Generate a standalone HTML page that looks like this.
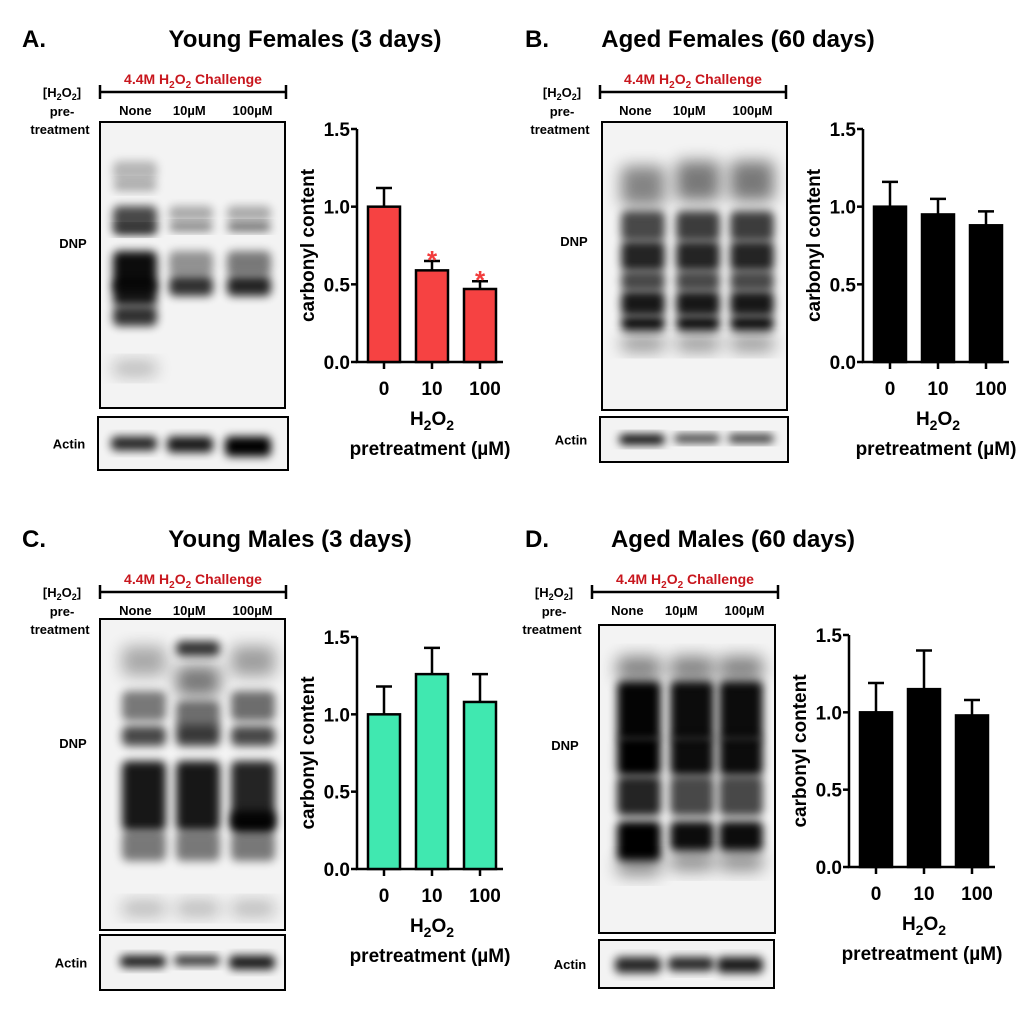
<!DOCTYPE html>
<html><head><meta charset="utf-8"><style>
body{margin:0;background:#fff}
svg{display:block;font-family:"Liberation Sans",Arial,sans-serif;font-weight:bold}
</style></head><body>
<svg id="s" width="1020" height="1017" viewBox="0 0 1020 1017" xmlns="http://www.w3.org/2000/svg">
<defs>
<filter id="b3" x="-50%" y="-50%" width="200%" height="200%"><feGaussianBlur stdDeviation="4.5"/></filter>
<filter id="b6" x="-50%" y="-50%" width="200%" height="200%"><feGaussianBlur stdDeviation="8"/></filter>
</defs>
</svg>
<script>
const s=document.getElementById('s');let h='';
function t(x,y,txt,sz,anc,fill,extra){h+=`<text x="${x}" y="${y}" font-size="${sz}" text-anchor="${anc||'start'}" fill="${fill||'#000'}" ${extra||''}>${txt}</text>`;}
function panel(o){
 const dx=o.dx,dy=o.dy;
 t(22+dx,47+dy,o.L,24);
 t(o.tx+dx,47+dy,o.title,24,'middle');
 t(o.bx0+(o.bx1-o.bx0)/2+dx,84+dy,'4.4M H<tspan font-size="10" dy="4">2</tspan><tspan dy="-4">O</tspan><tspan font-size="10" dy="4">2</tspan><tspan dy="-4"> Challenge</tspan>',14,'middle','#c8161d');
 h+=`<path d="M${o.bx0+dx} ${92+dy}H${o.bx1+dx}M${o.bx0+dx} ${85+dy}V${99+dy}M${o.bx1+dx} ${85+dy}V${99+dy}" stroke="#000" stroke-width="2.5" fill="none"/>`;
 const lx=o.bx0-38+dx;
 t(lx,97+dy,'[H<tspan font-size="9" dy="3">2</tspan><tspan dy="-3">O</tspan><tspan font-size="9" dy="3">2</tspan><tspan dy="-3">]</tspan>',13,'middle');
 t(lx,116+dy,'pre-',13,'middle');t(lx-2,134+dy,'treatment',13,'middle');
 const w=o.bx1-o.bx0;
 t(o.bx0+w*0.19+dx,115+dy,'None',13,'middle');t(o.bx0+w*0.48+dx,115+dy,'10µM',13,'middle');t(o.bx0+w*0.82+dx,115+dy,'100µM',13,'middle');
 const [X0,Y0,X1,Y1]=o.blot;
 h+=`<rect x="${X0+dx}" y="${Y0+dy}" width="${X1-X0}" height="${Y1-Y0}" fill="#f3f3f3" stroke="#000" stroke-width="2"/>`;
 h+=`<svg x="${X0+dx+1}" y="${Y0+dy+1}" width="${X1-X0-2}" height="${Y1-Y0-2}" overflow="hidden">`;
 o.lanes.forEach((c,i)=>{o.bands[i].forEach(b=>{h+=`<rect x="${c-X0-22}" y="${b[0]-Y0}" width="44" height="${b[1]}" rx="6" fill="#000" opacity="${b[2]}" filter="url(#${b[3]||'b3'})"/>`;});});
 h+='</svg>';
 t(o.dnpx+dx,o.dnpy+dy,'DNP',13,'middle');
 const [A0,B0,A1,B1]=o.act;
 h+=`<rect x="${A0+dx}" y="${B0+dy}" width="${A1-A0}" height="${B1-B0}" fill="#f3f3f3" stroke="#000" stroke-width="2"/>`;
 o.lanes.forEach((c,i)=>{h+=`<rect x="${c-23+dx}" y="${(B0+B1)/2-7+dy+(o.actOff||0)}" width="46" height="${o.actH[i]}" rx="5" fill="#000" opacity="${o.actO[i]}" filter="url(#b3)"/>`;});
 t(A0-29+dx,(B0+B1)/2+5+dy,'Actin',13,'middle');
 const ax=o.ax+dx,y0=o.y0+dy,y15=o.y15+dy,sc=(y0-y15)/1.5;
 h+=`<path d="M${ax} ${y15}V${y0}H${ax+146}" stroke="#000" stroke-width="2.5" fill="none"/>`;
 [0,0.5,1,1.5].forEach(v=>{const y=y0-v*sc;h+=`<path d="M${ax-6} ${y}H${ax}" stroke="#000" stroke-width="2.5"/>`;t(ax-7,y+7,v.toFixed(1),19,'end');});
 ['0','10','100'].forEach((l,i)=>{const cx=ax+27+48*i;const v=o.vals[i],e=o.err[i];const yt=y0-v*sc;
  h+=`<path d="M${cx} ${yt}V${yt-e*sc}M${cx-8} ${yt-e*sc}H${cx+8}" stroke="#000" stroke-width="2.5"/>`;
  h+=`<rect x="${cx-16}" y="${yt}" width="32" height="${y0-yt}" fill="${o.col}" stroke="#000" stroke-width="2.5"/>`;
  h+=`<path d="M${cx} ${y0}V${y0+7}" stroke="#000" stroke-width="2.5"/>`;
  t(cx+(i==2?5:0),y0+33,l,19,'middle');
  if(o.star&&i>0)t(cx,yt-e*sc+8,'*',26,'middle','#f23c3c');
 });
 t(ax+75,y0+63,'H<tspan font-size="14" dy="5">2</tspan><tspan dy="-5">O</tspan><tspan font-size="14" dy="5">2</tspan>',19,'middle');
 t(ax+73,y0+93,'pretreatment (µM)',19,'middle');
 const ly=(y0+y15)/2;t(ax-43,ly,'carbonyl content',19,'middle','#000',`transform="rotate(-90 ${ax-43} ${ly})"`);
}
panel({dx:0,dy:0,L:'A.',title:'Young Females (3 days)',tx:305,bx0:100,bx1:286,blot:[100,122,285,408],lanes:[134,190,248],
 bands:[[[160,20,.25],[180,10,.3],[205,25,.7],[225,8,.8],[250,40,.95],[280,25,.9],[305,20,.8],[360,15,.25,'b6']],
        [[205,15,.3],[222,8,.5],[250,25,.4],[275,20,.8]],
        [[205,15,.3],[222,8,.6],[250,25,.5],[275,20,.85]]],
 dnpx:73,dnpy:248,act:[98,417,288,470],actH:[14,16,20],actO:[.85,.9,1],
 ax:357,y0:362,y15:129,vals:[1,.59,.47],err:[.12,.06,.05],col:'#f64242',star:true});
panel({dx:503,dy:0,L:'B.',title:'Aged Females (60 days)',tx:235,bx0:97,bx1:283,blot:[99,122,284,410],lanes:[139,194,248],
 bands:[[[165,40,.45,'b6'],[210,30,.7],[240,30,.85],[270,20,.7],[290,25,.9],[315,15,.95],[335,15,.4,'b6']],
        [[160,40,.5,'b6'],[210,30,.75],[240,30,.85],[270,20,.7],[290,25,.9],[315,15,.95],[335,15,.4,'b6']],
        [[160,40,.5,'b6'],[210,30,.75],[240,30,.85],[270,20,.7],[290,25,.9],[315,15,.95],[335,15,.4,'b6']]],
 dnpx:71,dnpy:246,act:[97,417,285,462],actH:[10,8,8],actO:[1,.8,.85],actOff:2,
 ax:360,y0:362,y15:129,vals:[1,.95,.88],err:[.16,.1,.09],col:'#000'});
panel({dx:0,dy:500,L:'C.',title:'Young Males (3 days)',tx:290,bx0:100,bx1:286,blot:[100,119,285,430],lanes:[143,197,252],
 bands:[[[145,30,.3,'b6'],[190,30,.5],[225,20,.7],[260,70,.9],[330,30,.5],[400,15,.25,'b6']],
        [[140,15,.8],[165,30,.5,'b6'],[200,30,.55],[225,20,.75],[260,70,.9],[330,30,.5],[400,15,.25,'b6']],
        [[145,30,.35,'b6'],[190,30,.55],[225,20,.7],[260,70,.85],[310,20,.9],[330,30,.5],[400,15,.25,'b6']]],
 dnpx:73,dnpy:248,act:[100,435,285,490],actH:[12,10,14],actO:[.9,.8,.9],
 ax:357,y0:369,y15:137,vals:[1,1.26,1.08],err:[.18,.17,.18],col:'#40e8b0'});
panel({dx:503,dy:500,L:'D.',title:'Aged Males (60 days)',tx:230,bx0:89,bx1:275,blot:[96,125,272,433],lanes:[135,188,237],
 bands:[[[155,25,.45,'b6'],[180,60,.98],[235,40,1],[275,40,.85],[320,40,1],[355,20,.4,'b6']],
        [[155,25,.45,'b6'],[180,60,.95],[235,40,.95],[275,40,.7],[320,30,.95],[350,20,.4,'b6']],
        [[155,25,.45,'b6'],[180,60,.95],[235,40,.95],[275,40,.7],[320,30,.95],[350,20,.4,'b6']]],
 dnpx:62,dnpy:250,act:[96,440,271,488],actH:[16,14,16],actO:[.85,.85,.9],
 ax:346,y0:367,y15:135,vals:[1,1.15,.98],err:[.19,.25,.1],col:'#000'});
s.insertAdjacentHTML('beforeend',h);
</script>
</body></html>
